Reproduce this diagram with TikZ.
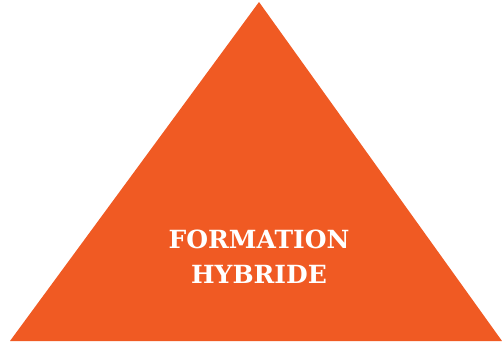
\documentclass[tikz,border=0pt]{standalone}
\usepackage{fontspec}
\newfontfamily\slabfont{DejaVu Serif}
\definecolor{tri}{RGB}{240,90,35}
\begin{document}
\begin{tikzpicture}[x=1pt,y=1pt,
  label/.style={text=white,font=\slabfont\bfseries\fontsize{25}{35}\selectfont,align=center,inner sep=0pt}]
\useasboundingbox (0,0) rectangle (502,345);
\fill[tri] (10,4) -- (502,4) -- (259,343) -- cycle;
\node[label] (t) at (259,88) {FORMATION\\HYBRIDE};
\end{tikzpicture}
\end{document}
